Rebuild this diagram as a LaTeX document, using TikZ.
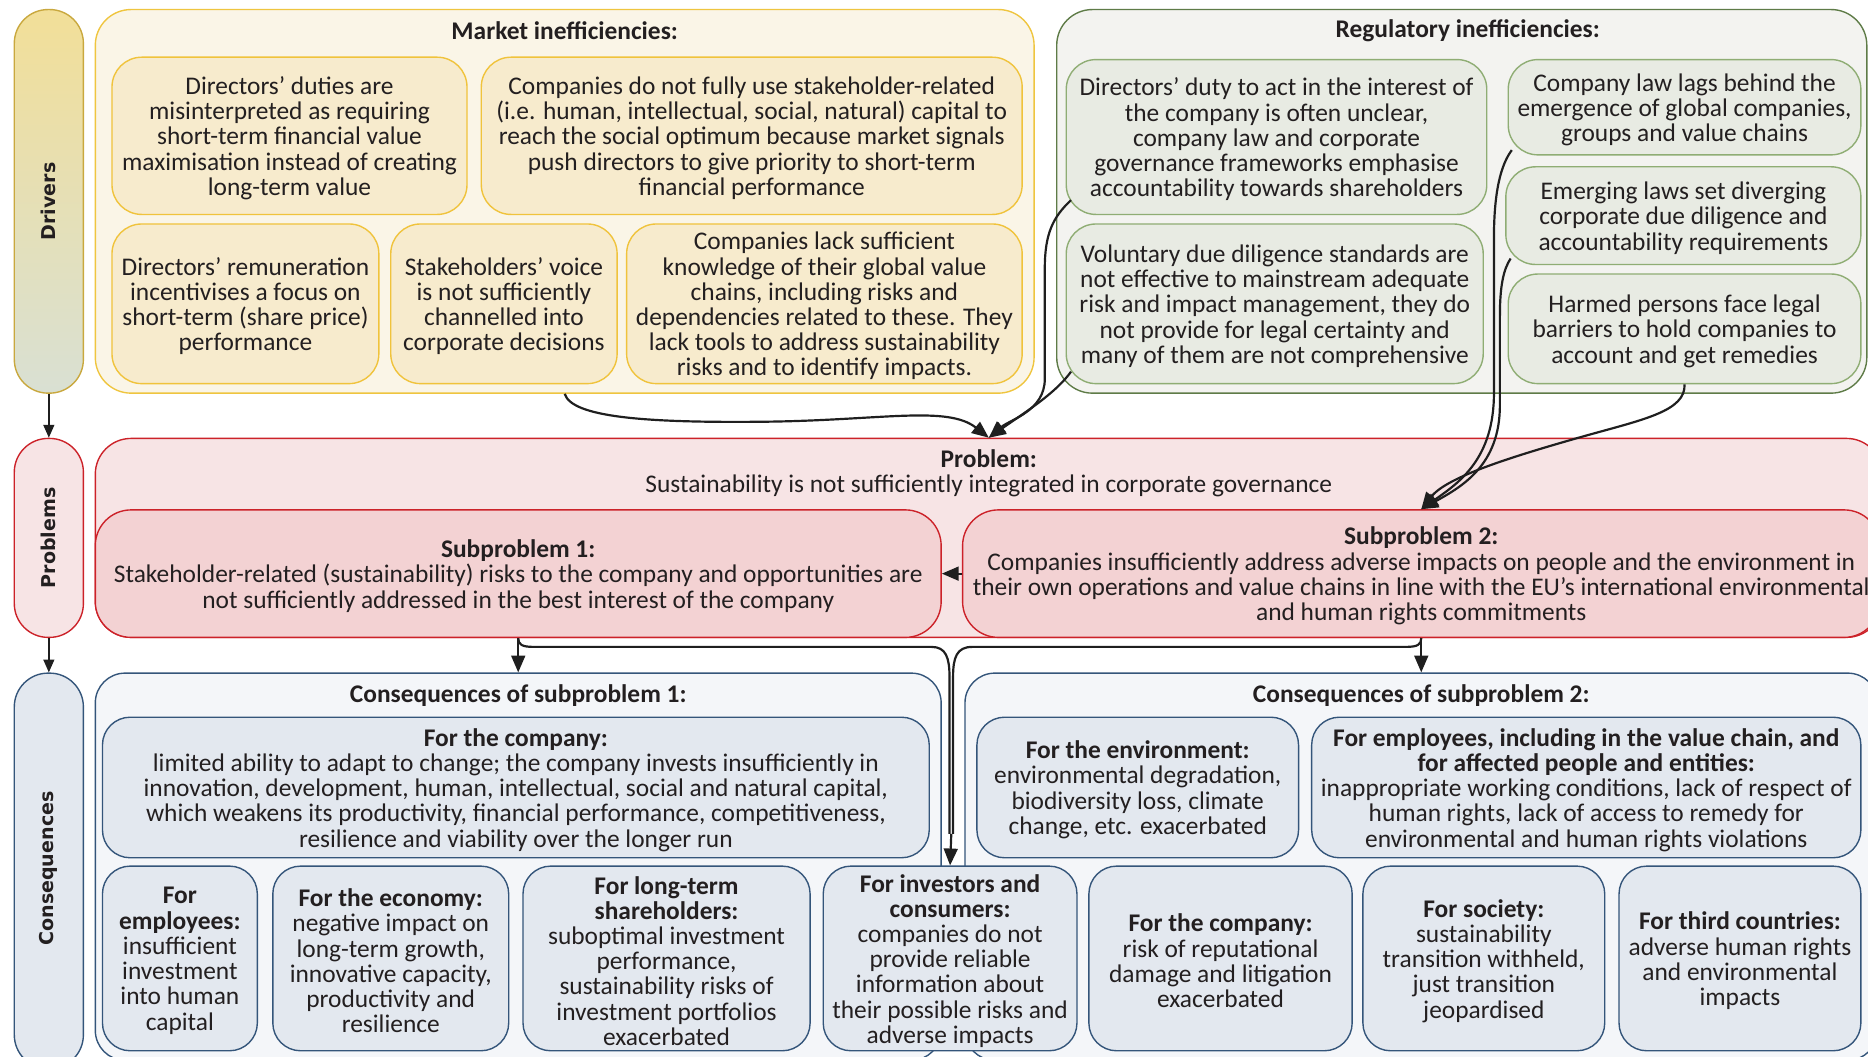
\documentclass[tikz,border=0pt]{standalone}
\usepackage{fontspec}
\setmainfont{Carlito}
\newfontfamily\sidefont{DejaVu Sans}
\usetikzlibrary{fit,arrows.meta,calc}
\definecolor{txt}{HTML}{231F20}
\definecolor{mkofill}{HTML}{FAF5E7}
\definecolor{mkoline}{HTML}{EFC53F}
\definecolor{mkifill}{HTML}{F7EBCD}
\definecolor{mkiline}{HTML}{F0C33C}
\definecolor{rgofill}{HTML}{F3F3F0}
\definecolor{rgoline}{HTML}{5E7B47}
\definecolor{rgifill}{HTML}{E8EBE3}
\definecolor{rgiline}{HTML}{8FAD74}
\definecolor{pbofill}{HTML}{F7E4E5}
\definecolor{pbline}{HTML}{CC2229}
\definecolor{pbifill}{HTML}{F3D2D3}
\definecolor{csofill}{HTML}{F4F6F9}
\definecolor{csline}{HTML}{34557A}
\definecolor{csifill}{HTML}{E3E8EF}
\definecolor{drvtop}{HTML}{F2DF98}
\definecolor{drvbot}{HTML}{D9E0D3}
\definecolor{drvline}{HTML}{C9A83E}
\newcommand{\bodyfs}{\fontsize{12.8}{12.7}\selectfont}
% box node (empty, fitted) plus a centred text node
\newcommand{\bx}[5]{%
  \node[#1, fit={#2 #3}] (#4) {};
  \node[align=center] (#4t) at ($(#4.center)+(0,2)$) {#5};}
\tikzset{
  every node/.append style={font=\bodyfs, text=txt},
  box/.style={draw, line width=0.7pt, inner sep=0pt},
  mko/.style={box, fill=mkofill, draw=mkoline, rounded corners=18pt},
  mki/.style={box, fill=mkifill, draw=mkiline, rounded corners=15pt},
  rgo/.style={box, fill=rgofill, draw=rgoline, rounded corners=18pt},
  rgi/.style={box, fill=rgifill, draw=rgiline, rounded corners=15pt},
  pbo/.style={box, fill=pbofill, draw=pbline, rounded corners=18pt},
  pbi/.style={box, fill=pbifill, draw=pbline, rounded corners=18pt},
  cso/.style={box, fill=csofill, draw=csline, rounded corners=15pt},
  csi/.style={box, fill=csifill, draw=csline, rounded corners=14pt},
  pill/.style={box, rounded corners=17pt},
  sidelab/.style={rotate=90, font=\sidefont\bfseries\fontsize{9.6}{10}\selectfont},
  ttl/.style={font=\bodyfs\bfseries, align=center},
  conn/.style={line width=1.1pt, draw=black!88, -{Triangle[length=8.5pt,width=7pt]}},
  plain/.style={line width=1.1pt, draw=black!88},
  sarr/.style={line width=0.8pt, draw=black!88, -{Triangle[length=6.5pt,width=5.5pt]}}
}
\begin{document}
\begin{tikzpicture}[x=0.6pt,y=-0.6pt]
\useasboundingbox (0,0) rectangle (1568,887);
% side pills
\node[pill, draw=drvline, top color=drvtop, bottom color=drvbot, fit={(12,8) (70,330)}] (drv) {};
\node[sidelab] (drvl) at (drv.center) {Drivers};
\node[pill, draw=pbline, fill=pbofill, fit={(12,368) (70,535)}] (prb) {};
\node[sidelab] (prbl) at (prb.center) {Problems};
\node[pill, draw=csline, fill=csifill, fit={(12,565) (70,897)}] (csq) {};
\node[sidelab] (csql) at (41,729) {Consequences};
\draw[sarr] (drv.south) -- (prb.north);
\draw[sarr] (prb.south) -- (csq.north);

% Market inefficiencies
\node[mko, fit={(80,8) (868,330)}] (mkt) {};
\node[ttl] (mktt) at (474,26) {Market inefficiencies:};
\bx{mki}{(94,48)}{(392,180)}{m1}{Directors’ duties are\\misinterpreted as requiring\\short-term financial value\\maximisation instead of creating\\long-term value}
\bx{mki}{(404,48)}{(858,180)}{m2}{Companies do not fully use stakeholder-related\\(i.e. human, intellectual, social, natural) capital to\\reach the social optimum because market signals\\push directors to give priority to short-term\\financial performance}
\bx{mki}{(94,188)}{(318,322)}{m3}{Directors’ remuneration\\incentivises a focus on\\short-term (share price)\\performance}
\bx{mki}{(328,188)}{(518,322)}{m4}{Stakeholders’ voice\\is not sufficiently\\channelled into\\corporate decisions}
\bx{mki}{(526,188)}{(858,322)}{m5}{Companies lack sufficient\\knowledge of their global value\\chains, including risks and\\dependencies related to these. They\\lack tools to address sustainability\\risks and to identify impacts.}

% Regulatory inefficiencies
\node[rgo, fit={(887,8) (1567,330)}] (reg) {};
\node[ttl] (regt) at (1232,26) {Regulatory inefficiencies:};
\bx{rgi}{(895,50)}{(1248,180)}{r1}{Directors’ duty to act in the interest of\\the company is often unclear,\\company law and corporate\\governance frameworks emphasise\\accountability towards shareholders}
\bx{rgi}{(895,188)}{(1245,322)}{r2}{Voluntary due diligence standards are\\not effective to mainstream adequate\\risk and impact management, they do\\not provide for legal certainty and\\many of them are not comprehensive}
\bx{rgi}{(1266,50)}{(1562,130)}{r3}{Company law lags behind the\\emergence of global companies,\\groups and value chains}
\bx{rgi}{(1264,140)}{(1562,222)}{r4}{Emerging laws set diverging\\corporate due diligence and\\accountability requirements}
\bx{rgi}{(1266,230)}{(1562,322)}{r5}{Harmed persons face legal\\barriers to hold companies to\\account and get remedies}

% Problems
\node[pbo, fit={(80,368) (1580,535)}] (prob) {};
\node[align=center] (probt) at (830,397) {\textbf{Problem:}\\Sustainability is not sufficiently integrated in corporate governance};
\bx{pbi}{(80,428)}{(790,535)}{sp1}{\textbf{Subproblem 1:}\\Stakeholder-related (sustainability) risks to the company and opportunities are\\not sufficiently addressed in the best interest of the company}
\bx{pbi}{(808,428)}{(1578,535)}{sp2}{\textbf{Subproblem 2:}\\Companies insufficiently address adverse impacts on people and the environment in\\their own operations and value chains in line with the EU’s international environmental\\and human rights commitments}

% Consequences
\node[cso, fit={(80,565) (790,890)}] (cs1) {};
\node[ttl] (cs1t) at (435,584) {Consequences of subproblem 1:};
\node[cso, fit={(810,565) (1576,890)}] (cs2) {};
\node[ttl] (cs2t) at (1193,584) {Consequences of subproblem 2:};
\bx{csi}{(86,602)}{(780,720)}{c1a}{\textbf{For the company:}\\limited ability to adapt to change; the company invests insufficiently in\\innovation, development, human, intellectual, social and natural capital,\\which weakens its productivity, financial performance, competitiveness,\\resilience and viability over the longer run}
\bx{csi}{(86,727)}{(216,882)}{c1b}{\textbf{For}\\\textbf{employees:}\\insufficient\\investment\\into human\\capital}
\bx{csi}{(229,727)}{(427,882)}{c1c}{\textbf{For the economy:}\\negative impact on\\long-term growth,\\innovative capacity,\\productivity and\\resilience}
\bx{csi}{(439,727)}{(680,882)}{c1d}{\textbf{For long-term}\\\textbf{shareholders:}\\suboptimal investment\\performance,\\sustainability risks of\\investment portfolios\\exacerbated}
\bx{csi}{(691,727)}{(904,882)}{c1e}{\textbf{For investors and}\\\textbf{consumers:}\\companies do not\\provide reliable\\information about\\their possible risks and\\adverse impacts}
\bx{csi}{(820,602)}{(1090,720)}{c2a}{\textbf{For the environment:}\\environmental degradation,\\biodiversity loss, climate\\change, etc. exacerbated}
\bx{csi}{(1101,602)}{(1562,720)}{c2b}{\textbf{For employees, including in the value chain, and}\\\textbf{for affected people and entities:}\\inappropriate working conditions, lack of respect of\\human rights, lack of access to remedy for\\environmental and human rights violations}
\bx{csi}{(914,727)}{(1135,882)}{c2c}{\textbf{For the company:}\\risk of reputational\\damage and litigation\\exacerbated}
\bx{csi}{(1144,727)}{(1347,882)}{c2d}{\textbf{For society:}\\sustainability\\transition withheld,\\just transition\\jeopardised}
\bx{csi}{(1359,727)}{(1562,882)}{c2e}{\textbf{For third countries:}\\adverse human rights\\and environmental\\impacts}

% connectors: drivers -> problem
\coordinate (r1o) at (899,168);
\coordinate (r2o) at (899,312);
\coordinate (r3o) at (1269,126);
\coordinate (r4o) at (1268,217);
\draw[conn] (mkt.south) .. controls (480,350) and (540,355) .. (640,354) .. controls (740,353) and (795,340) .. (prob.north);
\draw[conn] (r1o) .. controls (884,182) and (877,196) .. (877,225) -- (877,318) .. controls (877,345) and (848,352) .. (prob.north);
\draw[conn] (r2o) .. controls (886,330) and (862,345) .. (prob.north);
% regulatory -> subproblem 2
\draw[conn] (r3o) .. controls (1260,138) and (1254,160) .. (1254,200) -- (1254,330) .. controls (1254,385) and (1225,405) .. (sp2.north);
\draw[conn] (r4o) .. controls (1262,226) and (1259,240) .. (1259,265) -- (1259,340) .. controls (1259,390) and (1228,408) .. (sp2.north);
\draw[conn] (r5.south) .. controls (1415,345) and (1380,352) .. (1330,366) .. controls (1270,383) and (1215,400) .. (sp2.north);
% subproblems
\draw[conn] (sp2.west) -- (sp1.east);
\draw[conn] (sp1.south) -- (cs1.north);
\draw[conn] (sp2.south) -- (cs2.north);
\draw[plain] (sp1.south) .. controls (435,541) and (438,543) .. (448,543) -- (782,543) .. controls (794,543) and (797,552) .. (797,568) -- (797,700);
\draw[plain] (sp2.south) .. controls (1193,541) and (1190,543) .. (1180,543) -- (816,543) .. controls (803,543) and (800,552) .. (800,568) -- (800,700);
\coordinate (jn) at (798.5,700);
\draw[conn] (jn) -- (c1e.north);
\end{tikzpicture}
\end{document}
